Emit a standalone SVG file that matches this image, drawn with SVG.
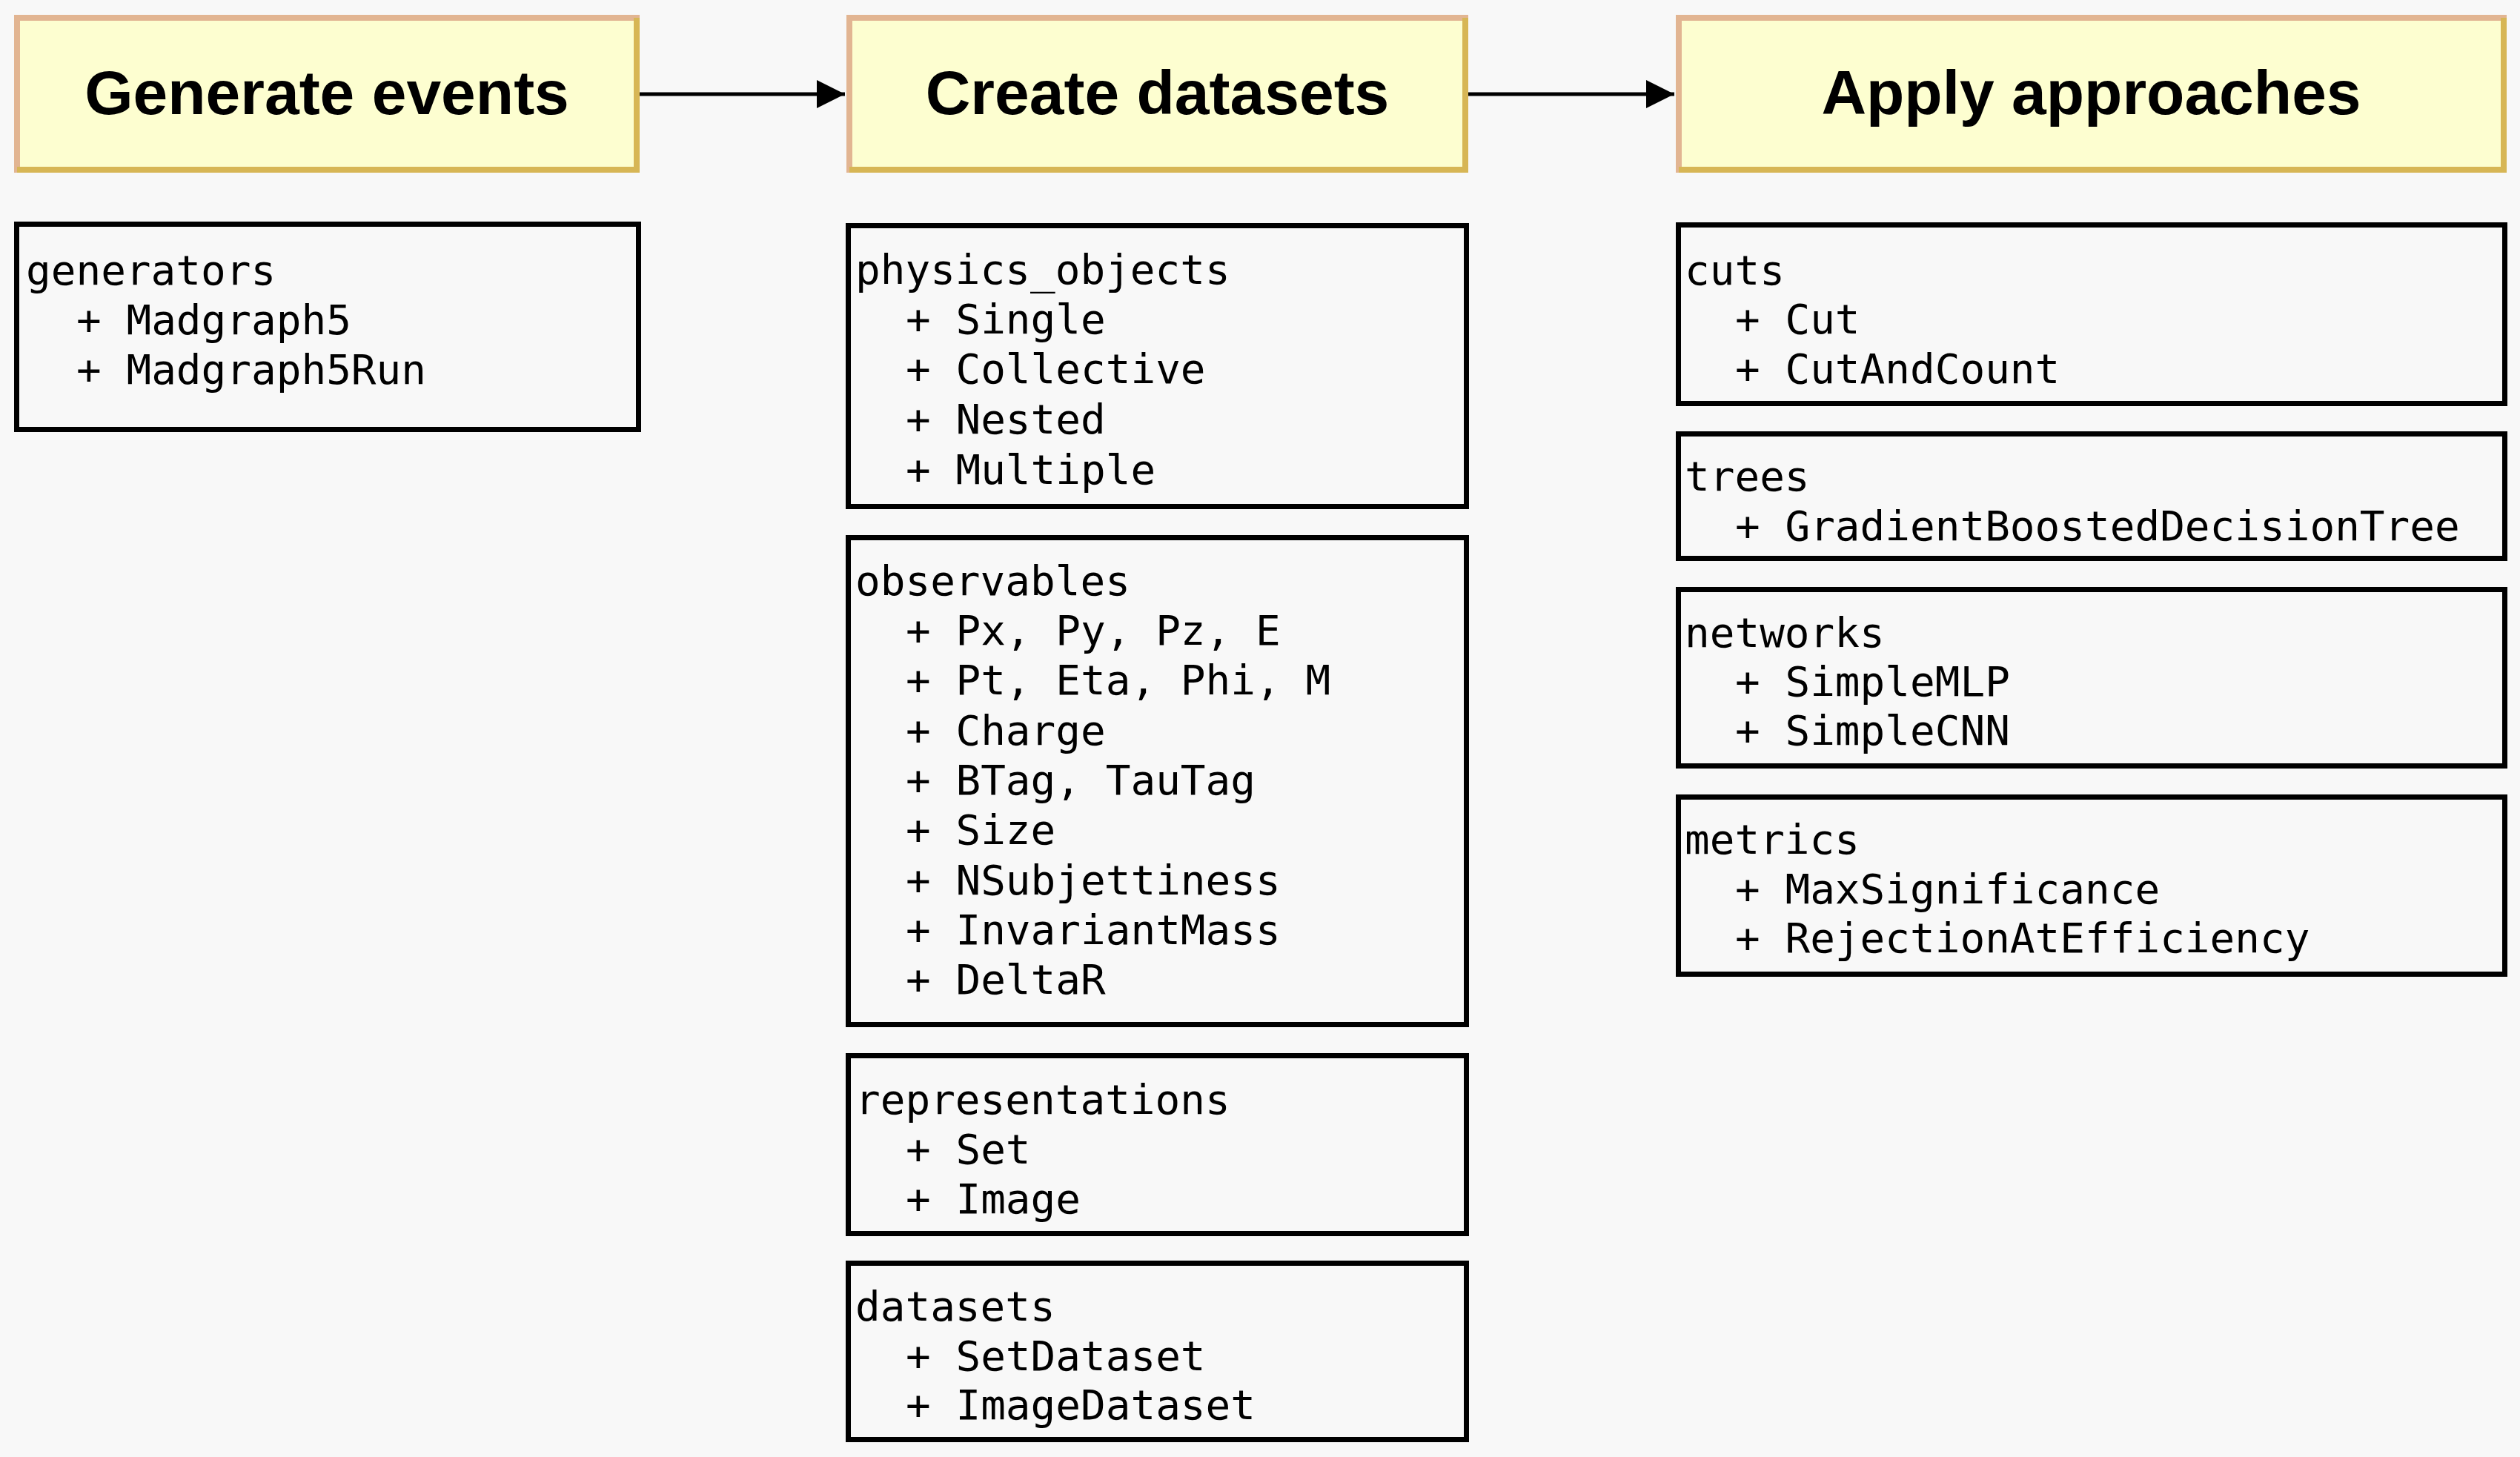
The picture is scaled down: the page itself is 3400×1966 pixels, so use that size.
<svg xmlns="http://www.w3.org/2000/svg" width="3400" height="1966" viewBox="0 0 3400 1966">
<style>
.bg{fill:#f8f8f8}
.title rect{fill:#fdfed0;stroke:#e2b592;stroke-width:8}
.title .br{fill:none;stroke:#d7b655;stroke-width:8}
.title text{font-family:"Liberation Sans",Arial,sans-serif;font-weight:bold;font-size:84px;fill:#000;text-anchor:middle}
.mod rect{fill:#f8f8f8;stroke:#000;stroke-width:7}
.mod text{font-family:"DejaVu Sans Mono","Liberation Mono",monospace;font-size:56px;fill:#000}
.conn line{stroke:#000;stroke-width:5;marker-end:url(#arr)}
</style>
<defs>
<marker id="arr" markerUnits="userSpaceOnUse" viewBox="0 0 38 38" markerWidth="38" markerHeight="38" refX="38" refY="19" orient="auto">
<path d="M0,0 L38,19 L0,38 z" fill="#000"/>
</marker>
</defs>
<rect class="bg" x="0" y="0" width="3400" height="1966"/>

<g id="generate-events" class="title">
<rect x="23" y="24" width="836" height="205"/>
<polyline class="br" points="859,24 859,229 23,229"/>
<text x="441" y="154">Generate events</text>
</g>
<g id="create-datasets" class="title">
<rect x="1146" y="24" width="831" height="205"/>
<polyline class="br" points="1977,24 1977,229 1146,229"/>
<text x="1561.5" y="154">Create datasets</text>
</g>
<g id="apply-approaches" class="title">
<rect x="2265" y="24" width="1113" height="205"/>
<polyline class="br" points="3378,24 3378,229 2265,229"/>
<text x="2821.5" y="154">Apply approaches</text>
</g>

<g id="connectors" class="conn">
<line x1="863" y1="127" x2="1140" y2="127"/>
<line x1="1981" y1="127" x2="2259" y2="127"/>
</g>

<g id="generators" class="mod">
<rect x="22.5" y="302.5" width="839" height="277"/>
<text x="35" y="384">generators</text>
<text x="103" y="451">+ Madgraph5</text>
<text x="103" y="518">+ Madgraph5Run</text>
</g>

<g id="physics_objects" class="mod">
<rect x="1144.5" y="304.5" width="834" height="379"/>
<text x="1154" y="383">physics_objects</text>
<text x="1222" y="450">+ Single</text>
<text x="1222" y="517">+ Collective</text>
<text x="1222" y="585">+ Nested</text>
<text x="1222" y="653">+ Multiple</text>
</g>

<g id="observables" class="mod">
<rect x="1144.5" y="725.5" width="834" height="657"/>
<text x="1154" y="803">observables</text>
<text x="1222" y="870">+ Px, Py, Pz, E</text>
<text x="1222" y="937">+ Pt, Eta, Phi, M</text>
<text x="1222" y="1005">+ Charge</text>
<text x="1222" y="1072">+ BTag, TauTag</text>
<text x="1222" y="1139">+ Size</text>
<text x="1222" y="1207">+ NSubjettiness</text>
<text x="1222" y="1274">+ InvariantMass</text>
<text x="1222" y="1341">+ DeltaR</text>
</g>

<g id="representations" class="mod">
<rect x="1144.5" y="1424.5" width="834" height="240"/>
<text x="1154" y="1503">representations</text>
<text x="1222" y="1570">+ Set</text>
<text x="1222" y="1637">+ Image</text>
</g>

<g id="datasets" class="mod">
<rect x="1144.5" y="1704.5" width="834" height="238"/>
<text x="1154" y="1782">datasets</text>
<text x="1222" y="1849">+ SetDataset</text>
<text x="1222" y="1915">+ ImageDataset</text>
</g>

<g id="cuts" class="mod">
<rect x="2264.5" y="303.5" width="1115" height="241"/>
<text x="2273" y="384">cuts</text>
<text x="2341" y="450">+ Cut</text>
<text x="2341" y="517">+ CutAndCount</text>
</g>

<g id="trees" class="mod">
<rect x="2264.5" y="585.5" width="1115" height="168"/>
<text x="2273" y="662">trees</text>
<text x="2341" y="729">+ GradientBoostedDecisionTree</text>
</g>

<g id="networks" class="mod">
<rect x="2264.5" y="795.5" width="1115" height="238"/>
<text x="2273" y="873">networks</text>
<text x="2341" y="939">+ SimpleMLP</text>
<text x="2341" y="1005">+ SimpleCNN</text>
</g>

<g id="metrics" class="mod">
<rect x="2264.5" y="1075.5" width="1115" height="239"/>
<text x="2273" y="1152">metrics</text>
<text x="2341" y="1219">+ MaxSignificance</text>
<text x="2341" y="1285">+ RejectionAtEfficiency</text>
</g>
</svg>
